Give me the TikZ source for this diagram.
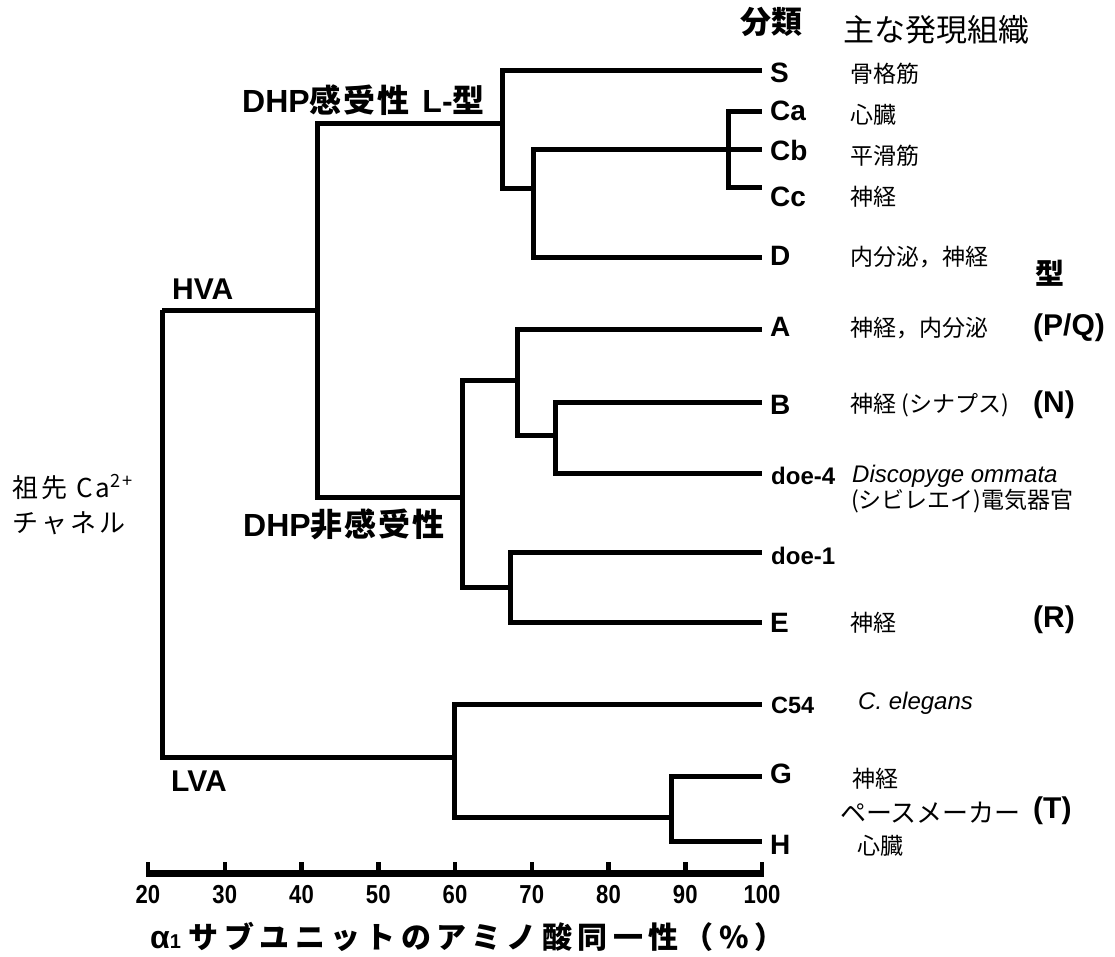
\documentclass[tikz,border=0pt]{standalone}
\usepackage{fontspec}
\usepackage{graphicx}
\setmainfont{Liberation Sans}
\newfontfamily\jp{Noto Sans CJK JP}
\newfontfamily\jpsp[LetterSpace=12]{Noto Sans CJK JP}
\newfontfamily\jpsub[LetterSpace=18]{Noto Sans CJK JP}
\newfontfamily\jpcl[LetterSpace=6]{Noto Sans CJK JP}
\begin{document}
\begin{tikzpicture}[x=1pt,y=-1pt,
  tree/.style={line width=5pt, line join=miter},
  axisl/.style={line width=7pt},
  tickl/.style={line width=4.5pt},
  leaf/.style={anchor=west, inner sep=0pt, font=\fontsize{28}{28}\selectfont\bfseries},
  leafs/.style={anchor=west, inner sep=0pt, font=\fontsize{24}{24}\selectfont\bfseries},
  tissue/.style={anchor=west, inner sep=0pt, font=\jp\fontsize{23}{23}\selectfont},
  itl/.style={anchor=west, inner sep=0pt, font=\fontsize{24}{24}\selectfont\itshape},
  typ/.style={anchor=west, inner sep=0pt, font=\fontsize{30}{30}\selectfont\bfseries},
  clade/.style={anchor=west, inner sep=0pt, font=\fontsize{32}{32}\selectfont\bfseries},
  ticklab/.style={inner sep=0pt, font=\fontsize{26}{26}\selectfont\bfseries},
]
\useasboundingbox (0,0) rectangle (1115,956);

% ---- tree coordinates ----
\coordinate (root) at (162,310);
\coordinate (hva) at (317,310);
\coordinate (lva) at (454,757);
\coordinate (Lt) at (502,123);
\coordinate (cg) at (533,188);
\coordinate (cabc) at (728,149);
\coordinate (non) at (462,497);
\coordinate (ab) at (517,380);
\coordinate (bd) at (555,435);
\coordinate (ee) at (510,587);
\coordinate (gh) at (671,817);
% leaves
\coordinate (S) at (762,70);
\coordinate (Ca) at (762,111);
\coordinate (Cb) at (762,149);
\coordinate (Cc) at (762,187);
\coordinate (D) at (762,257);
\coordinate (A) at (762,329);
\coordinate (B) at (762,402);
\coordinate (doe4) at (762,473);
\coordinate (doe1) at (762,552);
\coordinate (E) at (762,622);
\coordinate (C54) at (762,704);
\coordinate (G) at (762,776);
\coordinate (H) at (762,841);

% ---- branches ----
\draw[tree] (root) |- (hva);
\draw[tree] (root) |- (lva);
\draw[tree] (hva) |- (Lt);
\draw[tree] (hva) |- (non);
\draw[tree] (Lt) |- (S);
\draw[tree] (Lt) |- (cg);
\draw[tree] (cg) |- (cabc);
\draw[tree] (cg) |- (D);
\draw[tree] (cabc) -- (Cb);
\draw[tree] (cabc) |- (Ca);
\draw[tree] (cabc) |- (Cc);
\draw[tree] (non) |- (ab);
\draw[tree] (non) |- (ee);
\draw[tree] (ab) |- (A);
\draw[tree] (ab) |- (bd);
\draw[tree] (bd) |- (B);
\draw[tree] (bd) |- (doe4);
\draw[tree] (ee) |- (doe1);
\draw[tree] (ee) |- (E);
\draw[tree] (lva) |- (C54);
\draw[tree] (lva) |- (gh);
\draw[tree] (gh) |- (G);
\draw[tree] (gh) |- (H);

% ---- leaf names ----
\node[leaf] (lS) at (770,73) {S};
\node[leaf] (lCa) at (770,111) {Ca};
\node[leaf] (lCb) at (770,150) {Cb};
\node[leaf] (lCc) at (770,197) {Cc};
\node[leaf] (lD) at (770,256) {D};
\node[leaf] (lA) at (770,327) {A};
\node[leaf] (lB) at (770,405) {B};
\node[leafs] (ldoe4) at (771,476) {doe-4};
\node[leafs] (ldoe1) at (771,556) {doe-1};
\node[leaf] (lE) at (770,623) {E};
\node[leafs, font=\fontsize{23.5}{23.5}\selectfont\bfseries] (lC54) at (771,705) {C54};
\node[leaf] (lG) at (770,774) {G};
\node[leaf] (lH) at (770,845) {H};

% ---- tissues ----
\node[tissue] (tS) at (850,74) {骨格筋};
\node[tissue] (tCa) at (850,115) {心臓};
\node[tissue] (tCb) at (850,156) {平滑筋};
\node[tissue] (tCc) at (850,197) {神経};
\node[tissue] (tD) at (850,257) {内分泌，神経};
\node[tissue] (tA) at (850,328) {神経，内分泌};
\node[tissue] (tB) at (850,405) {神経 (シナプス)};
\node[itl] (tdoe4) at (852,476) {Discopyge ommata};
\node[tissue] (tdoe4b) at (851,501) {(シビレエイ)電気器官};
\node[tissue] (tE) at (850,623) {神経};
\node[itl] (tC54) at (858,703) {C. elegans};
\node[tissue] (tG) at (852,779) {神経};
\node[tissue, font=\jp\fontsize{26}{26}\selectfont] (tGH) at (840,813) {ペースメーカー};
\node[tissue] (tH) at (857,846) {心臓};

% ---- types ----
\node[anchor=west, inner sep=0pt, font=\jp\fontsize{29}{29}\selectfont\bfseries] (kata) at (1035,273) {型};
\node[typ] (yPQ) at (1033,328) {(P/Q)};
\node[typ] (yN) at (1033,405) {(N)};
\node[typ] (yR) at (1033,620) {(R)};
\node[typ] (yT) at (1033,811) {(T)};

% ---- headers ----
\node[anchor=west, inner sep=0pt, font=\jp\fontsize{31}{31}\selectfont\bfseries] (h1) at (740,22) {分類};
\node[anchor=west, inner sep=0pt, font=\jp\fontsize{31}{31}\selectfont] (h2) at (843,30) {主な発現組織};

% ---- clade labels ----
\node[clade] (cL) at (242,100) {DHP{\jpcl 感受性}\hspace{4pt} L-{\jp 型}};
\node[clade] (cN) at (243,524) {DHP{\jpcl 非感受性}};
\node[clade, font=\fontsize{30}{30}\selectfont\bfseries] (cH) at (172,289) {HVA};
\node[clade, font=\fontsize{30}{30}\selectfont\bfseries] (cLV) at (171,781) {LVA};
\node[anchor=west, inner sep=0pt, font=\jpsp\fontsize{26}{26}\selectfont] (anc1) at (12,487) {祖先 Ca\textsuperscript{2+}};
\node[anchor=west, inner sep=0pt, font=\jpsp\fontsize{26}{26}\selectfont] (anc2) at (12,523) {チャネル};

% ---- axis ----
\coordinate (ax0) at (146,873);
\coordinate (ax1) at (764,873);
\draw[axisl] (ax0) -- (ax1);
\foreach \p in {20,30,...,100}{
  \pgfmathsetmacro\xx{148+(\p-20)*7.675}
  \coordinate (tb\p) at (\xx,873);
  \coordinate (tt\p) at (\xx,862);
  \draw[tickl] (tb\p) -- (tt\p);
  \node[ticklab] (tl\p) at (\xx,895) {\scalebox{0.85}[1]{\p}};
}
\node[anchor=west, inner sep=0pt] (xt) at (150,937)
  {{\fontsize{32}{32}\selectfont\bfseries α}{\fontsize{20}{20}\selectfont\bfseries 1}\hspace{8pt}{\jpsub\fontsize{30}{30}\selectfont\bfseries サブユニットのアミノ酸同一性（\%）}};
\end{tikzpicture}
\end{document}
